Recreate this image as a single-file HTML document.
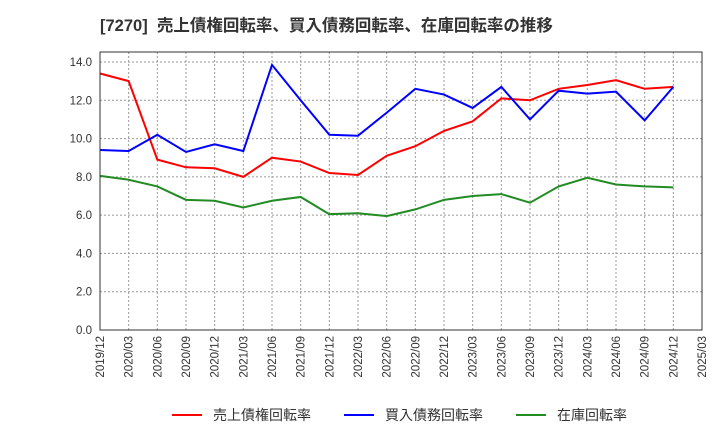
<!DOCTYPE html>
<html><head><meta charset="utf-8"><style>
body{margin:0;background:#fff;font-family:"Liberation Sans","Noto Sans CJK JP",sans-serif;}
</style></head><body>
<svg width="720" height="440" xmlns="http://www.w3.org/2000/svg" font-family="Liberation Sans, Noto Sans CJK JP, sans-serif">
<text x="100" y="31" font-size="16.5" font-weight="bold" fill="#333" xml:space="preserve">[7270]  売上債権回転率、買入債務回転率、在庫回転率の推移</text>
<g id="grid"></g><g id="axes"></g><g id="series"></g>
<rect x="100" y="52" width="602" height="278" fill="none" stroke="#333"/>
<g id="legend"></g>
</svg>
<script>
const categories=["2019/12","2020/03","2020/06","2020/09","2020/12","2021/03","2021/06","2021/09","2021/12","2022/03","2022/06","2022/09","2022/12","2023/03","2023/06","2023/09","2023/12","2024/03","2024/06","2024/09","2024/12","2025/03"];
const receivables=[13.4,13.0,8.9,8.5,8.45,8.0,9.0,8.8,8.2,8.1,9.1,9.6,10.4,10.9,12.1,12.0,12.6,12.8,13.05,12.6,12.7];
const payables=[9.4,9.35,10.2,9.3,9.7,9.35,13.85,12.0,10.2,10.15,11.35,12.6,12.3,11.6,12.7,11.0,12.5,12.35,12.45,10.95,12.7];
const inventory=[8.05,7.85,7.5,6.8,6.75,6.4,6.75,6.95,6.05,6.1,5.95,6.3,6.8,7.0,7.1,6.65,7.5,7.95,7.6,7.5,7.45];
const yTicks=[0,2,4,6,8,10,12,14];
const ns="http://www.w3.org/2000/svg";
const X0=100,X1=702,Y0=330,Y14=62;
const xs=i=>X0+i*(X1-X0)/(categories.length-1);
const ys=v=>Y0-v*(Y0-Y14)/14;
function mk(t,a,p){const e=document.createElementNS(ns,t);for(const k in a)e.setAttribute(k,a[k]);p.appendChild(e);return e;}
const grid=document.getElementById('grid'),axes=document.getElementById('axes'),ser=document.getElementById('series'),leg=document.getElementById('legend');
yTicks.forEach(v=>{
 const l=mk('line',{x1:X0,x2:X1,y1:ys(v),y2:ys(v),stroke:'#999','stroke-dasharray':'2,2'},grid);
 
 
 const t=mk('text',{x:X0-8,y:ys(v)+4,'text-anchor':'end','font-size':11.5,fill:'#333'},axes);
 t.textContent=v.toFixed(1);
 
 
});
categories.forEach((c,i)=>{
 const x=xs(i);
 const l=mk('line',{x1:x,x2:x,y1:52,y2:Y0,stroke:'#999','stroke-dasharray':'2,2'},grid);
 
 
 const t=mk('text',{x:x+4,y:Y0+6,'text-anchor':'end','font-size':11.5,fill:'#333',transform:`rotate(-90 ${x+4} ${Y0+6})`},axes);
 t.textContent=c;
 
 
});
[[receivables,'#ff0000','receivables-turnover-line'],[payables,'#0000ff','payables-turnover-line'],[inventory,'#228b22','inventory-turnover-line']].forEach(([d,c,n])=>{
 const p=mk('polyline',{points:d.map((v,i)=>xs(i)+','+ys(v)).join(' '),fill:'none',stroke:c,'stroke-width':2},ser);
 
 
});
[['売上債権回転率','#ff0000',172],['買入債務回転率','#0000ff',344],['在庫回転率','#228b22',516]].forEach(([n,c,x])=>{
 const g=mk('g',{},leg);
 
 
 mk('line',{x1:x,x2:x+30,y1:415,y2:415,stroke:c,'stroke-width':2},g);
 const t=mk('text',{x:x+41,y:420,'font-size':14,fill:'#333'},g);
 t.textContent=n;
});
</script>
</body></html>
